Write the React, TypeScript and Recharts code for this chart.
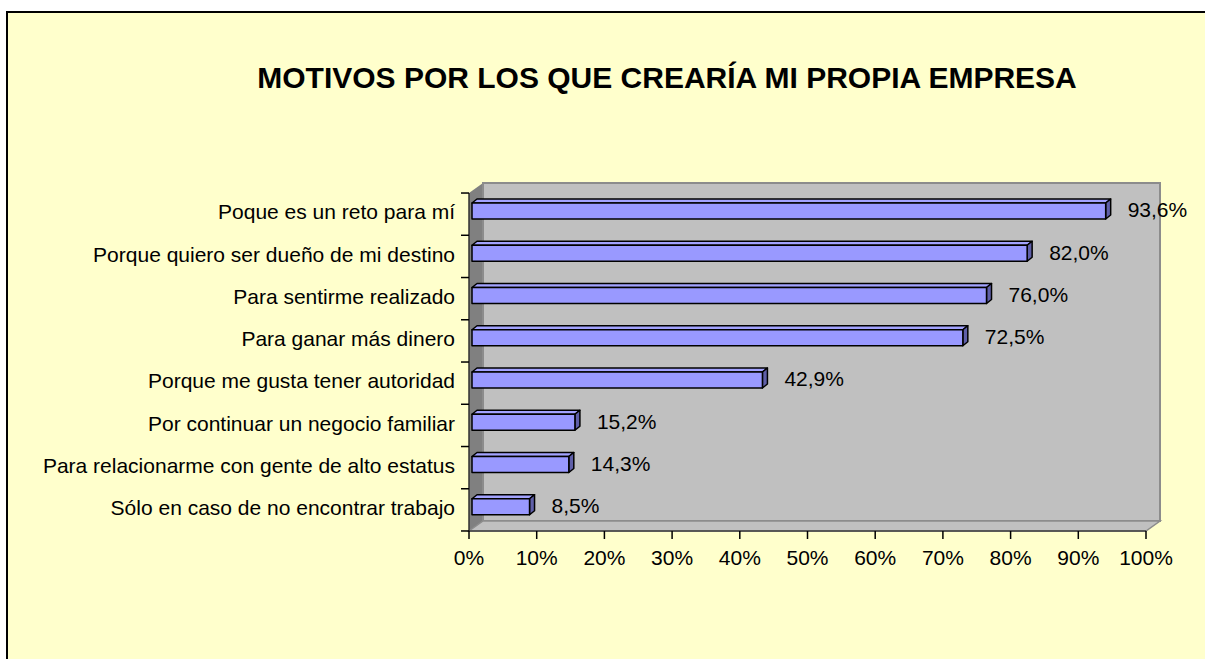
import React from 'react';
import { BarChart, Bar, XAxis, YAxis, ReferenceArea, LabelList } from 'recharts';

const categorias = [
  'Poque es un reto para mí',
  'Porque quiero ser dueño de mi destino',
  'Para sentirme realizado',
  'Para ganar más dinero',
  'Porque me gusta tener autoridad',
  'Por continuar un negocio familiar',
  'Para relacionarme con gente de alto estatus',
  'Sólo en caso de no encontrar trabajo',
];
const porcentajes = [93.6, 82.0, 76.0, 72.5, 42.9, 15.2, 14.3, 8.5];
const ticksX = [0, 10, 20, 30, 40, 50, 60, 70, 80, 90, 100];
const titulo = 'MOTIVOS POR LOS QUE CREARÍA MI PROPIA EMPRESA';

const datos = categorias.map((nombre, i) => ({ nombre, valor: porcentajes[i] }));

const FUENTE = '"Liberation Sans", Arial, sans-serif';
const PROF_X = 14;
const PROF_Y = 10;

// pared del fondo, pared izquierda y suelo en 3D
const Paredes = (props: any) => {
  const { x, y, width: w, height: h } = props;
  return (
    <g>
      <polygon
        points={`${x},${y} ${x + PROF_X},${y - PROF_Y} ${x + PROF_X},${y + h - PROF_Y} ${x},${y + h}`}
        fill="#808080"
      />
      <rect x={x + PROF_X} y={y - PROF_Y} width={w} height={h} fill="#C0C0C0" stroke="#8C8C8C" strokeWidth={2} />
      <polygon
        points={`${x},${y + h} ${x + PROF_X},${y + h - PROF_Y} ${x + w + PROF_X},${y + h - PROF_Y} ${x + w},${y + h}`}
        fill="#C0C0C0"
        stroke="#8C8C8C"
        strokeWidth={1.5}
      />
    </g>
  );
};

// barra con efecto 3D
const Barra3D = (props: any) => {
  const { x, y, width, height } = props;
  if (!width) return null;
  const bx = x + 3;
  const by = y - 3;
  const d = 5;
  const e = 4;
  return (
    <g stroke="#000" strokeWidth={1.5} strokeLinejoin="round">
      <polygon
        points={`${bx},${by} ${bx + d},${by - e} ${bx + width + d},${by - e} ${bx + width},${by}`}
        fill="#A3A3FF"
      />
      <polygon
        points={`${bx + width},${by} ${bx + width + d},${by - e} ${bx + width + d},${by + height - e} ${bx + width},${by + height}`}
        fill="#5F5FA8"
      />
      <rect x={bx} y={by} width={width} height={height} fill="#9999FF" />
    </g>
  );
};

const EtiquetaValor = (props: any) => {
  const { x, y, width, height, value } = props;
  return (
    <text
      x={x + width + 25}
      y={y + height / 2 - 4}
      dy="0.35em"
      fontSize={21}
      fontFamily={FUENTE}
      fill="#000"
    >
      {Number(value).toFixed(1).replace('.', ',')}%
    </text>
  );
};

const TickCategoria = (props: any) => {
  const { x, y, payload, index } = props;
  const medio = 21.1;
  return (
    <g>
      <line x1={x + 6} y1={y - medio} x2={x + 14} y2={y - medio} stroke="#000" strokeWidth={1.5} />
      {index === categorias.length - 1 && (
        <line x1={x + 6} y1={y + medio} x2={x + 14} y2={y + medio} stroke="#000" strokeWidth={1.5} />
      )}
      <text x={x} y={y - 2} dy="0.35em" textAnchor="end" fontSize={21} fontFamily={FUENTE} fill="#000">
        {payload.value}
      </text>
    </g>
  );
};

export default function App() {
  return (
    <div
      style={{
        position: 'absolute',
        left: 0,
        top: 0,
        width: 1205,
        height: 659,
        overflow: 'hidden',
        background: '#fff',
      }}
    >
      <div
        style={{
          position: 'absolute',
          left: 6,
          top: 11,
          width: 1240,
          height: 700,
          borderLeft: '2px solid #000',
          borderTop: '2px solid #000',
          background: '#FFFFCC',
        }}
      />
      <div
        style={{
          position: 'absolute',
          left: 0,
          top: 63,
          width: 1334,
          textAlign: 'center',
          fontFamily: FUENTE,
          fontWeight: 'bold',
          fontSize: 30,
          lineHeight: '29px',
          color: '#000',
          whiteSpace: 'nowrap',
        }}
      >
        {titulo}
      </div>
      <div style={{ position: 'absolute', left: 0, top: 0 }}>
        <BarChart
          width={1205}
          height={659}
          data={datos}
          layout="vertical"
          margin={{ top: 193, right: 59, bottom: 88, left: 0 }}
          style={{ fontFamily: FUENTE }}
        >
          <ReferenceArea x1={0} x2={100} shape={<Paredes />} ifOverflow="visible" />
          <XAxis
            type="number"
            domain={[0, 100]}
            ticks={ticksX}
            tickFormatter={(v: number) => `${v}%`}
            height={40}
            tickSize={8}
            tickMargin={11}
            axisLine={{ stroke: '#404040', strokeWidth: 1.5 }}
            tickLine={{ stroke: '#000', strokeWidth: 1.5 }}
            tick={{ fill: '#000', fontSize: 21, fontFamily: FUENTE }}
            interval={0}
          />
          <YAxis
            type="category"
            dataKey="nombre"
            width={469}
            tickSize={8}
            tickMargin={6}
            tickLine={false}
            axisLine={{ stroke: '#303030', strokeWidth: 1.5 }}
            tick={<TickCategoria />}
            interval={0}
          />
          <Bar dataKey="valor" barSize={16} shape={<Barra3D />} isAnimationActive={false}>
            <LabelList dataKey="valor" content={<EtiquetaValor />} />
          </Bar>
        </BarChart>
      </div>
    </div>
  );
}
